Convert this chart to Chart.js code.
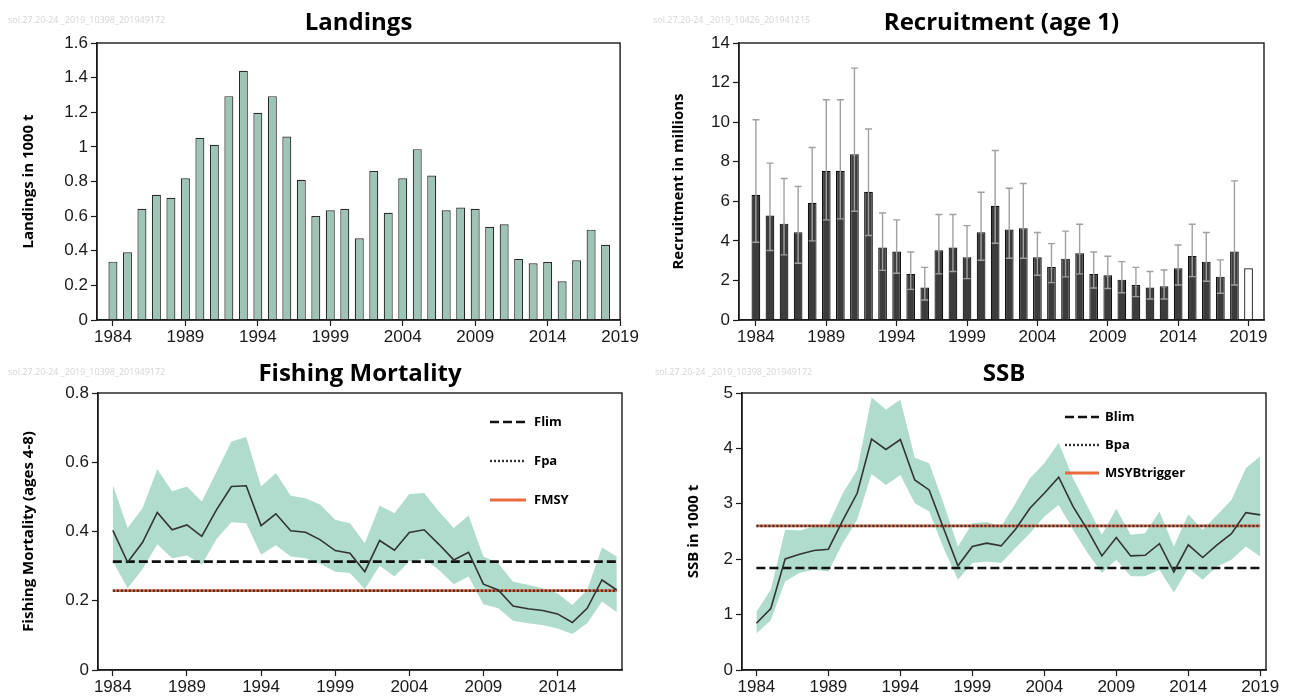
<!DOCTYPE html>
<html><head><meta charset="utf-8">
<script src="https://cdn.jsdelivr.net/npm/chart.js@4.4.1/dist/chart.umd.min.js"></script>
<style>
html,body{margin:0;padding:0;background:#fff;width:1289px;height:700px;overflow:hidden;}
.p{position:absolute;}
canvas{display:block;}
</style></head><body>
<div class="p" style="left:0;top:0;"><canvas id="c1" width="640" height="350"></canvas></div>
<div class="p" style="left:645px;top:0;"><canvas id="c2" width="644" height="350"></canvas></div>
<div class="p" style="left:0;top:352px;"><canvas id="c3" width="640" height="348"></canvas></div>
<div class="p" style="left:645px;top:352px;"><canvas id="c4" width="644" height="348"></canvas></div>
<script>
// ---------------- DATA ----------------
const xTickYears = [1984, 1989, 1994, 1999, 2004, 2009, 2014, 2019];

const landingsYears = [1984,1985,1986,1987,1988,1989,1990,1991,1992,1993,1994,1995,1996,1997,1998,1999,2000,2001,2002,2003,2004,2005,2006,2007,2008,2009,2010,2011,2012,2013,2014,2015,2016,2017,2018];
const landings = [0.337,0.391,0.642,0.723,0.706,0.819,1.053,1.012,1.293,1.44,1.197,1.293,1.06,0.81,0.601,0.634,0.642,0.472,0.86,0.619,0.819,0.987,0.835,0.634,0.65,0.642,0.538,0.553,0.353,0.328,0.335,0.224,0.345,0.522,0.434];

const recruitYears = [1984,1985,1986,1987,1988,1989,1990,1991,1992,1993,1994,1995,1996,1997,1998,1999,2000,2001,2002,2003,2004,2005,2006,2007,2008,2009,2010,2011,2012,2013,2014,2015,2016,2017,2018,2019];
const recruitment = [6.33,5.28,4.87,4.44,5.92,7.54,7.54,8.38,6.48,3.66,3.46,2.33,1.64,3.53,3.66,3.17,4.44,5.77,4.57,4.64,3.17,2.68,3.10,3.37,2.33,2.26,2.04,1.77,1.64,1.70,2.61,3.24,2.95,2.19,3.46,2.61];
const recruitLow = [3.93,3.51,3.29,2.87,4.00,5.06,5.11,5.50,4.27,2.51,2.36,1.55,1.01,2.33,2.45,2.09,3.02,3.88,3.12,3.12,2.26,1.89,2.18,2.33,1.62,1.59,1.38,1.18,1.06,1.06,1.77,2.19,1.96,1.35,1.77,null];
const recruitHigh = [10.12,7.93,7.15,6.75,8.72,11.13,11.13,12.73,9.65,5.41,5.06,3.44,2.66,5.33,5.33,4.77,6.46,8.57,6.66,6.90,4.42,3.86,4.49,4.84,3.44,3.22,2.95,2.66,2.45,2.53,3.79,4.84,4.42,3.04,7.03,null];

const fYears = [1984,1985,1986,1987,1988,1989,1990,1991,1992,1993,1994,1995,1996,1997,1998,1999,2000,2001,2002,2003,2004,2005,2006,2007,2008,2009,2010,2011,2012,2013,2014,2015,2016,2017,2018];
const fishingMortality = [0.403,0.311,0.368,0.455,0.405,0.419,0.386,0.463,0.530,0.532,0.417,0.451,0.402,0.398,0.376,0.345,0.337,0.284,0.374,0.346,0.397,0.405,0.363,0.318,0.340,0.248,0.231,0.185,0.177,0.172,0.162,0.137,0.178,0.260,0.231];
const fHigh = [0.535,0.410,0.467,0.580,0.516,0.530,0.487,0.573,0.660,0.673,0.530,0.569,0.503,0.496,0.477,0.434,0.424,0.366,0.475,0.453,0.508,0.511,0.458,0.410,0.446,0.328,0.308,0.255,0.246,0.236,0.222,0.188,0.231,0.354,0.328];
const fLow = [0.313,0.236,0.291,0.363,0.323,0.331,0.304,0.378,0.427,0.424,0.333,0.360,0.328,0.323,0.307,0.284,0.280,0.233,0.301,0.270,0.313,0.321,0.289,0.248,0.270,0.190,0.178,0.142,0.135,0.130,0.120,0.104,0.135,0.198,0.167];
const Flim = 0.313, Fpa = 0.229, FMSY = 0.229;

const ssbYears = [1984,1985,1986,1987,1988,1989,1990,1991,1992,1993,1994,1995,1996,1997,1998,1999,2000,2001,2002,2003,2004,2005,2006,2007,2008,2009,2010,2011,2012,2013,2014,2015,2016,2017,2018,2019];
const ssb = [0.843,1.11,2.006,2.09,2.157,2.18,2.70,3.19,4.17,3.98,4.16,3.43,3.25,2.56,1.88,2.23,2.29,2.24,2.54,2.92,3.19,3.48,2.95,2.53,2.06,2.39,2.06,2.07,2.28,1.77,2.26,2.03,2.26,2.46,2.84,2.80];
const ssbHigh = [1.05,1.45,2.53,2.52,2.59,2.62,3.19,3.61,4.92,4.70,4.88,3.83,3.73,3.01,2.23,2.65,2.67,2.59,3.01,3.46,3.73,4.10,3.46,2.95,2.44,2.91,2.44,2.47,2.86,2.23,2.81,2.53,2.80,3.07,3.64,3.86];
const ssbLow = [0.66,0.90,1.60,1.75,1.81,1.78,2.29,2.71,3.54,3.34,3.52,3.01,2.86,2.20,1.63,1.93,1.96,1.93,2.20,2.47,2.77,2.98,2.53,2.11,1.75,1.99,1.69,1.69,1.81,1.40,1.84,1.63,1.87,1.99,2.23,2.05];
const Blim = 1.84, Bpa = 2.6, MSYBtrigger = 2.6;

// ---------------- STYLE ----------------
const TICK_FONT = {family: '"Liberation Sans Narrow", "Liberation Sans", Arial, sans-serif', size: 17};
const AXIS_TITLE_FONT = {family: '"Open Sans", Lato, sans-serif', size: 15, weight: 'bold'};
const TITLE_FONT = {family: '"Open Sans", Lato, sans-serif', size: 24, weight: 'bold'};
const INK = '#1a1a1a';
const BAND = '#b0dccd';
const ORANGE = '#ea6a3e';

const pts = (xs, ys) => xs.map((x, i) => ({x: x, y: ys[i]}));
const hline = (x0, x1, v) => [{x: x0, y: v}, {x: x1, y: v}];

const framePlugin = {
  id: 'frame',
  afterDraw(chart) {
    const {ctx, chartArea: a} = chart;
    ctx.save();
    ctx.strokeStyle = INK; ctx.lineWidth = 1.4;
    ctx.strokeRect(a.left, a.top, a.right - a.left, a.bottom - a.top);
    const wm = chart.options.plugins.watermark;
    if (wm) {
      ctx.fillStyle = '#d4d4d4';
      ctx.font = '9px "Open Sans", sans-serif';
      ctx.textBaseline = 'middle';
      ctx.fillText(wm.text, wm.x, wm.y);
    }
    ctx.restore();
  }
};

const errorBarPlugin = {
  id: 'errorBars',
  afterDatasetsDraw(chart) {
    const {ctx, scales: {x, y}} = chart;
    ctx.save();
    ctx.strokeStyle = '#a0a0a0'; ctx.lineWidth = 1.4;
    recruitYears.forEach((yr, i) => {
      const lo = recruitLow[i], hi = recruitHigh[i];
      if (lo == null || hi == null) return;
      const px = x.getPixelForValue(yr);
      const pl = y.getPixelForValue(lo), ph = y.getPixelForValue(hi);
      ctx.beginPath();
      ctx.moveTo(px, pl); ctx.lineTo(px, ph);
      ctx.moveTo(px - 3.5, ph); ctx.lineTo(px + 3.5, ph);
      ctx.moveTo(px - 3.5, pl); ctx.lineTo(px + 3.5, pl);
      ctx.stroke();
    });
    ctx.restore();
  }
};

const refLegendPlugin = {
  id: 'refLegend',
  afterDraw(chart) {
    const lg = chart.options.plugins.refLegend;
    if (!lg) return;
    const {ctx} = chart;
    ctx.save();
    ctx.font = 'bold 13px "Open Sans", sans-serif';
    ctx.textBaseline = 'middle';
    lg.items.forEach((it, k) => {
      const ds = chart.data.datasets[it.ds];
      const yy = lg.y + k * lg.gap;
      ctx.beginPath();
      ctx.strokeStyle = ds.borderColor;
      ctx.lineWidth = ds.borderWidth;
      ctx.setLineDash(ds.borderDash || []);
      ctx.moveTo(lg.x0, yy); ctx.lineTo(lg.x1, yy);
      ctx.stroke();
      ctx.setLineDash([]);
      ctx.fillStyle = '#000';
      ctx.fillText(ds.label, lg.tx, yy);
    });
    ctx.restore();
  }
};

const fmtNum = v => String(Number(Number(v).toFixed(3)));

function xScale(min, max, h) {
  return {
    type: 'linear', min: min, max: max, offset: false,
    afterBuildTicks: s => { s.ticks = xTickYears.filter(v => v <= s.max + 1e-9).map(v => ({value: v})); },
    afterFit: s => { s.height = h; },
    ticks: {font: TICK_FONT, color: INK, padding: 1, maxRotation: 0, autoSkip: false, callback: v => String(v)},
    grid: {display: true, drawOnChartArea: false, drawTicks: true, tickLength: 6, tickColor: INK, tickWidth: 1.2, offset: false},
    border: {display: true, color: INK, width: 1.4}
  };
}
function yScale(max, step, w, title, titlePad) {
  return {
    type: 'linear', min: 0, max: max,
    afterFit: s => { s.width = w; },
    ticks: {font: TICK_FONT, color: INK, padding: 3, stepSize: step, callback: fmtNum},
    grid: {display: true, drawOnChartArea: false, drawTicks: true, tickLength: 6, tickColor: INK, tickWidth: 1.2},
    border: {display: true, color: INK, width: 1.4},
    title: {display: true, text: title, font: AXIS_TITLE_FONT, color: '#000', padding: {top: titlePad, bottom: 0}}
  };
}
function baseOpts(title, padTop, padRight, wm) {
  return {
    responsive: false, animation: false, events: [],
    layout: {padding: {top: 0, right: padRight, bottom: 0, left: 0}, autoPadding: false},
    plugins: {
      legend: {display: false}, tooltip: {enabled: false},
      title: {display: true, text: title, fullSize: false, font: TITLE_FONT, color: '#000', padding: {top: padTop, bottom: 0}},
      watermark: wm
    }
  };
}

// ---------------- LANDINGS ----------------
{
  const o = baseOpts('Landings', 9, 19, {text: 'sol.27.20-24 _2019_10398_201949172', x: 8, y: 20});
  o.plugins.title.padding.bottom = 43 - 9 - TITLE_FONT.size * 1.2;
  o.scales = {x: xScale(1982.9, 2019, 30), y: yScale(1.6, 0.2, 97, 'Landings in 1000 t', 20)};
  new Chart(document.getElementById('c1'), {
    type: 'bar',
    data: {datasets: [{label: 'Landings', data: pts(landingsYears, landings),
      backgroundColor: '#9dc4b5', borderColor: '#2a2a2a', borderWidth: 1.2, borderSkipped: 'bottom',
      barPercentage: 0.62, categoryPercentage: 1}]},
    options: o, plugins: [framePlugin]
  });
}
// ---------------- RECRUITMENT ----------------
{
  const o = baseOpts('Recruitment (age 1)', 9, 25, {text: 'sol.27.20-24 _2019_10426_201941215', x: 8, y: 20});
  o.plugins.title.padding.bottom = 43 - 9 - TITLE_FONT.size * 1.2;
  o.scales = {x: xScale(1982.8, 2020.1, 30), y: yScale(14, 2, 94, 'Recruitment in millions', 25)};
  new Chart(document.getElementById('c2'), {
    type: 'bar',
    data: {datasets: [{label: 'Recruitment', data: pts(recruitYears, recruitment),
      backgroundColor: c => c.dataIndex === recruitment.length - 1 ? '#ffffff' : '#3c3c3c',
      borderColor: '#111', borderWidth: 1.2, borderSkipped: 'bottom',
      barPercentage: 0.62, categoryPercentage: 1}]},
    options: o, plugins: [framePlugin, errorBarPlugin]
  });
}
// ---------------- FISHING MORTALITY ----------------
{
  const xMax = 2018.35;
  const o = baseOpts('Fishing Mortality', 7.6, 18, {text: 'sol.27.20-24 _2019_10398_201949172', x: 8, y: 20});
  o.plugins.title.padding.bottom = 41 - 7.6 - TITLE_FONT.size * 1.2;
  o.plugins.refLegend = {x0: 490, x1: 526, tx: 534, y: 70, gap: 39, items: [{ds: 1}, {ds: 2}, {ds: 3}]};
  o.scales = {x: xScale(1983, xMax, 30), y: yScale(0.8, 0.2, 98, 'Fishing Mortality (ages 4-8)', 20)};
  const last = fYears[fYears.length - 1];
  new Chart(document.getElementById('c3'), {
    type: 'line',
    data: {datasets: [
      {label: 'F', data: pts(fYears, fishingMortality), borderColor: '#333', borderWidth: 1.6, pointRadius: 0, tension: 0, fill: false},
      {label: 'Flim', data: hline(1984, last, Flim), borderColor: '#111', borderWidth: 2.6, borderDash: [9, 4], pointRadius: 0, fill: false},
      {label: 'Fpa', data: hline(1984, last, Fpa), borderColor: '#333', borderWidth: 2.4, borderDash: [2, 2], pointRadius: 0, fill: false},
      {label: 'FMSY', data: hline(1984, last, FMSY), borderColor: ORANGE, borderWidth: 2.8, pointRadius: 0, fill: false},
      {label: 'high', data: pts(fYears, fHigh), borderWidth: 0, borderColor: 'rgba(0,0,0,0)', pointRadius: 0, fill: false},
      {label: 'low', data: pts(fYears, fLow), borderWidth: 0, borderColor: 'rgba(0,0,0,0)', pointRadius: 0, fill: '-1', backgroundColor: BAND}
    ]},
    options: o, plugins: [framePlugin, refLegendPlugin]
  });
}
// ---------------- SSB ----------------
{
  const xMax = 2019.4;
  const o = baseOpts('SSB', 7.6, 23, {text: 'sol.27.20-24 _2019_10398_201949172', x: 10, y: 20});
  o.plugins.title.padding.bottom = 41 - 7.6 - TITLE_FONT.size * 1.2;
  o.plugins.refLegend = {x0: 420, x1: 454, tx: 460, y: 65, gap: 28, items: [{ds: 1}, {ds: 2}, {ds: 3}]};
  o.scales = {x: xScale(1983, xMax, 30), y: yScale(5, 1, 97, 'SSB in 1000 t', 40)};
  const last = ssbYears[ssbYears.length - 1];
  new Chart(document.getElementById('c4'), {
    type: 'line',
    data: {datasets: [
      {label: 'SSB', data: pts(ssbYears, ssb), borderColor: '#333', borderWidth: 1.6, pointRadius: 0, tension: 0, fill: false},
      {label: 'Blim', data: hline(1984, last, Blim), borderColor: '#111', borderWidth: 2.6, borderDash: [9, 4], pointRadius: 0, fill: false},
      {label: 'Bpa', data: hline(1984, last, Bpa), borderColor: '#333', borderWidth: 2.4, borderDash: [2, 2], pointRadius: 0, fill: false},
      {label: 'MSYBtrigger', data: hline(1984, last, MSYBtrigger), borderColor: ORANGE, borderWidth: 2.8, pointRadius: 0, fill: false},
      {label: 'high', data: pts(ssbYears, ssbHigh), borderWidth: 0, borderColor: 'rgba(0,0,0,0)', pointRadius: 0, fill: false},
      {label: 'low', data: pts(ssbYears, ssbLow), borderWidth: 0, borderColor: 'rgba(0,0,0,0)', pointRadius: 0, fill: '-1', backgroundColor: BAND}
    ]},
    options: o, plugins: [framePlugin, refLegendPlugin]
  });
}
</script>
</body></html>
